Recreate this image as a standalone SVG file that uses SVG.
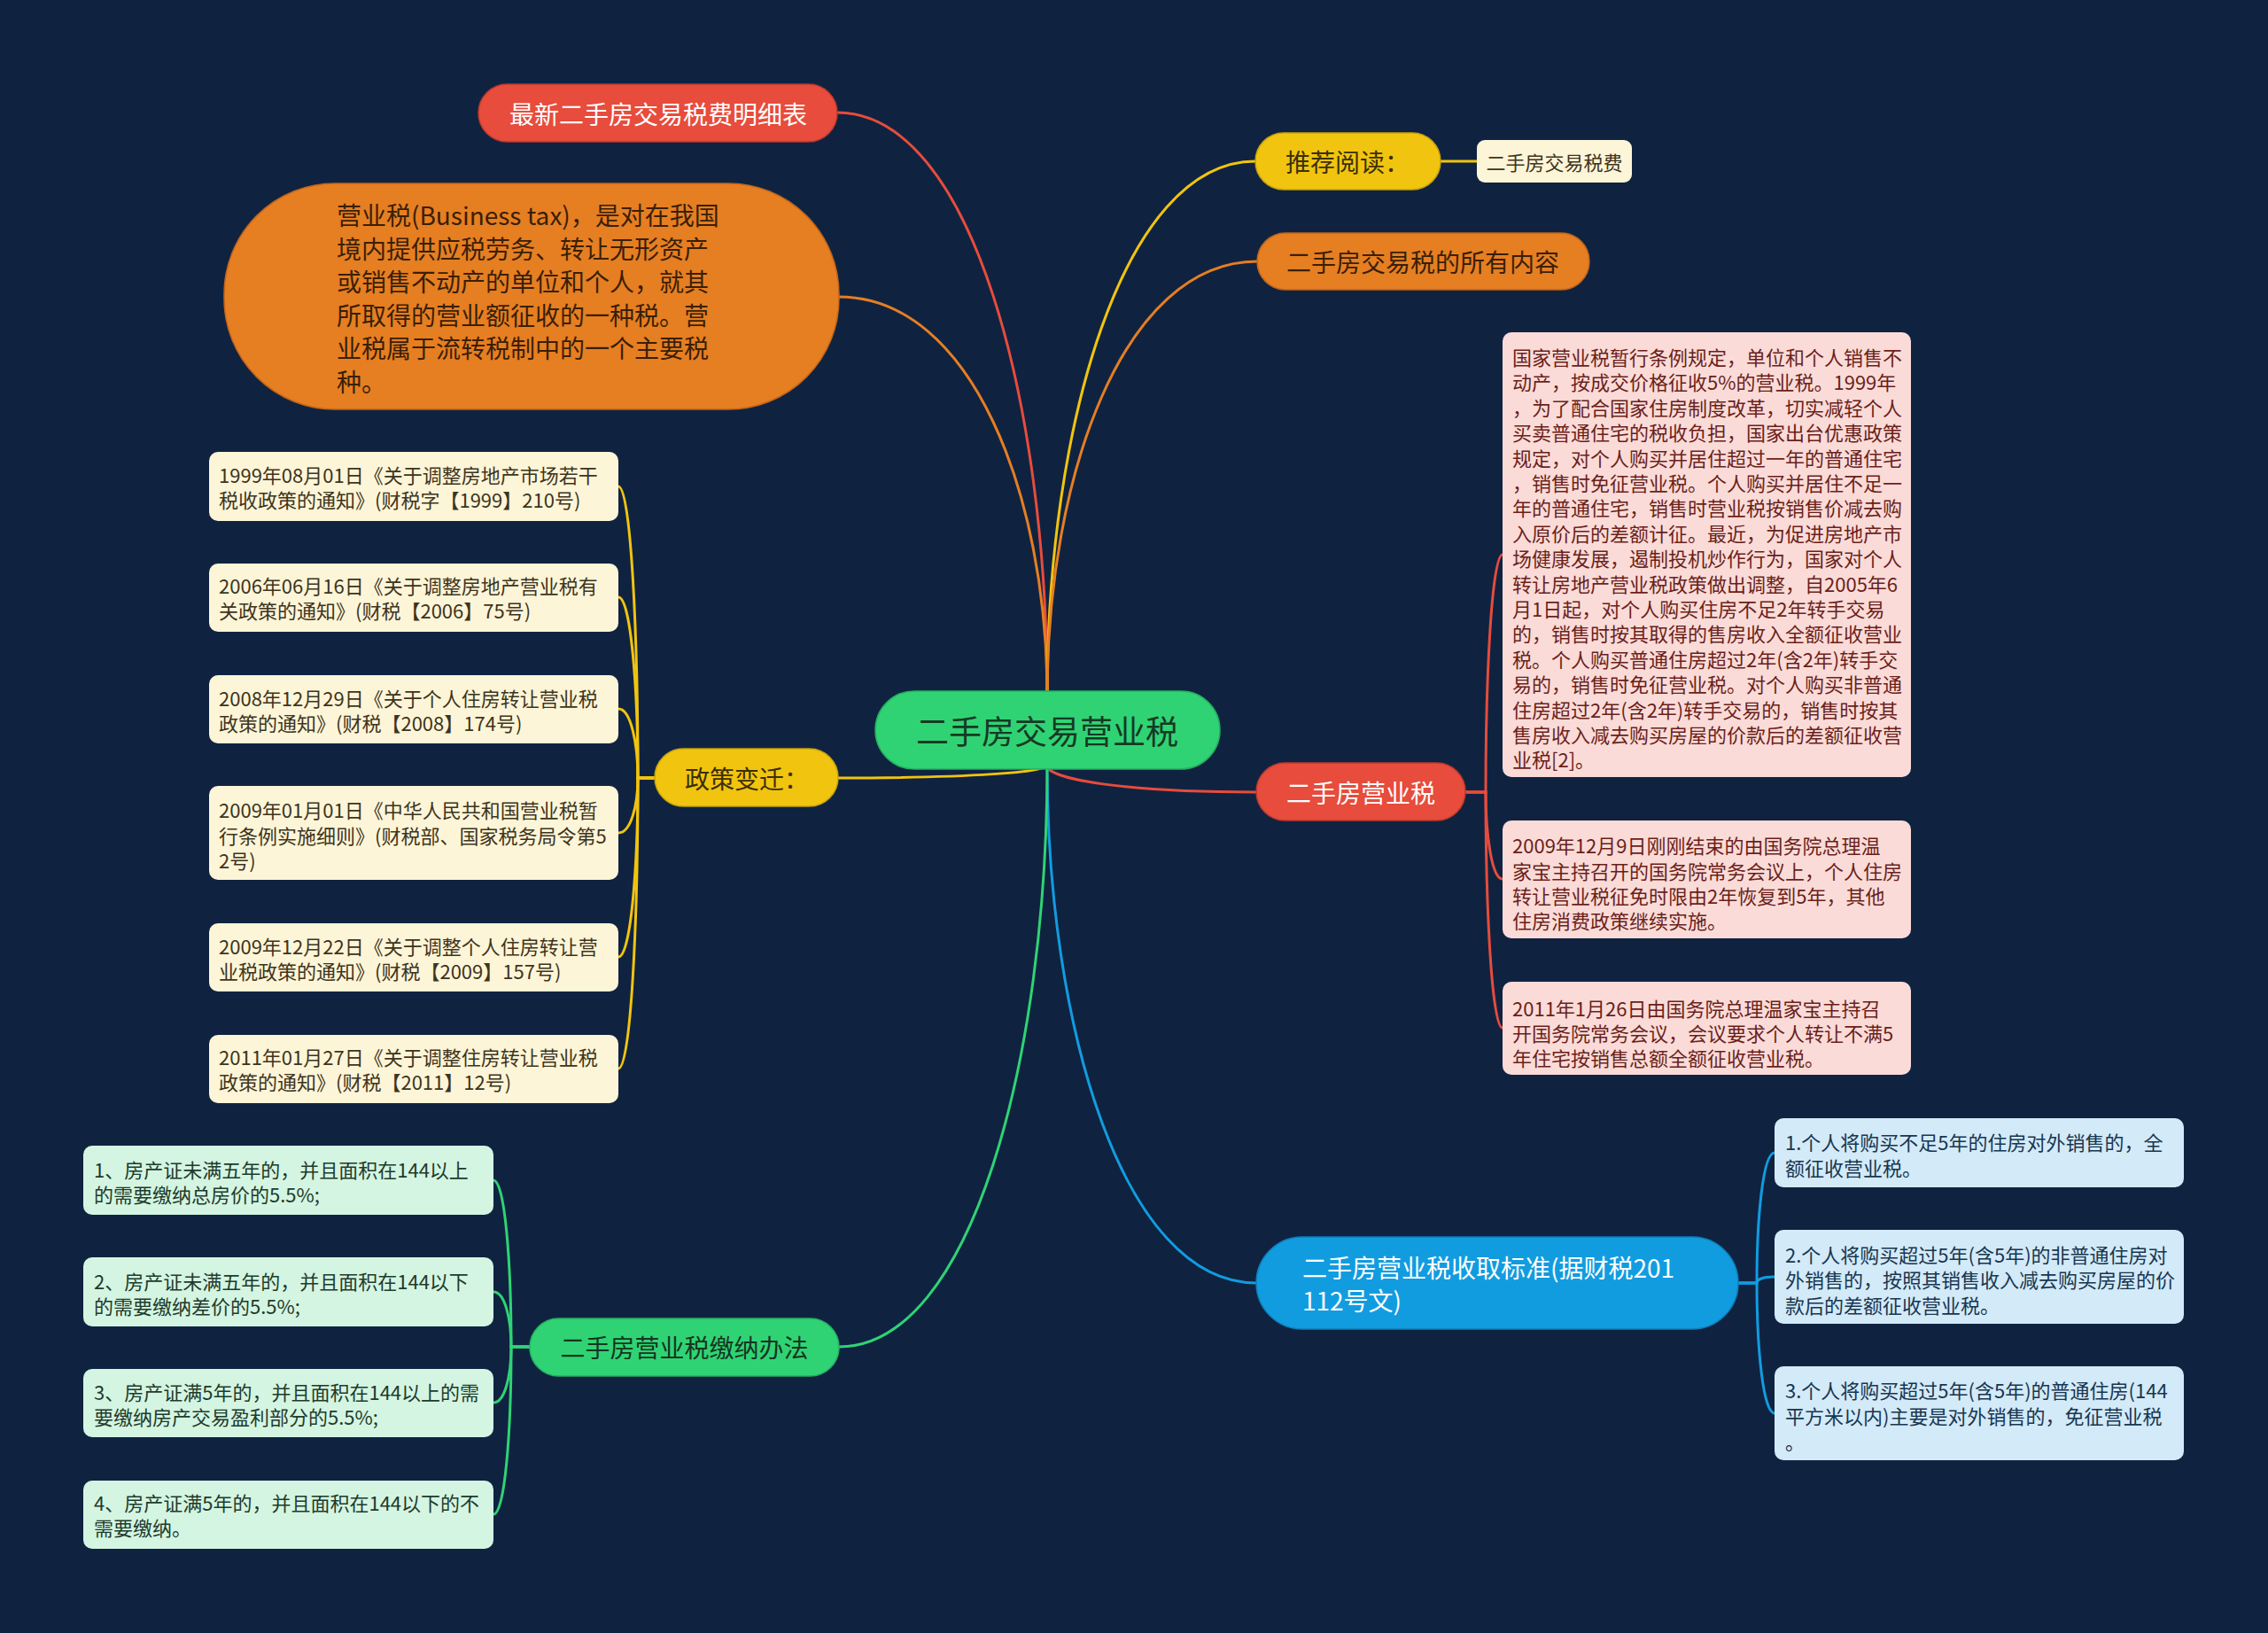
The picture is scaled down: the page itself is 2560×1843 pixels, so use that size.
<svg xmlns="http://www.w3.org/2000/svg" width="2560" height="1843" viewBox="0 0 2560 1843">
<style>
text{font-family:"Noto Sans CJK SC","Noto Sans",sans-serif;dominant-baseline:central}
.c{fill:none;stroke-width:3;stroke-linecap:round}
.l1{font-size:28px}
.lf{font-size:22px}
.mid{text-anchor:middle}
</style>
<rect width="2560" height="1843" fill="#0f2341"/>
<g id="connectors">
<path class="c" stroke="#e74c3c" d="M1182,784 C1182,455 1097,127 945,127"/>
<path class="c" stroke="#e67e22" d="M1182,784 C1182,560 1097,335 947,335"/>
<path class="c" stroke="#f1c40f" d="M1182,784 C1182,483 1267,182 1417,182"/>
<path class="c" stroke="#e67e22" d="M1182,784 C1182,540 1267,295 1419,295"/>
<path class="c" stroke="#e74c3c" d="M1182,864 C1182,879 1267,894 1418,894"/>
<path class="c" stroke="#129ce0" d="M1182,864 C1182,1156 1267,1448 1418,1448"/>
<path class="c" stroke="#30d374" d="M1182,864 C1182,1192 1097,1520 947,1520"/>
<path class="c" stroke="#f1c40f" d="M1182,864 C1182,871 1097,878 946,878"/>
<path class="c" stroke="#f1c40f" d="M1626,182 L1667,182"/>
<path class="c" stroke="#f1c40f" d="M739,878 L720,878 C720,713 712,549 698,549"/>
<path class="c" stroke="#f1c40f" d="M739,878 L720,878 C720,776 712,674 698,674"/>
<path class="c" stroke="#f1c40f" d="M739,878 L720,878 C720,839 712,800 698,800"/>
<path class="c" stroke="#f1c40f" d="M739,878 L720,878 C720,909 712,940 698,940"/>
<path class="c" stroke="#f1c40f" d="M739,878 L720,878 C720,979 712,1080 698,1080"/>
<path class="c" stroke="#f1c40f" d="M739,878 L720,878 C720,1042 712,1206 698,1206"/>
<path class="c" stroke="#e74c3c" d="M1654,894 L1677,894 C1677,760 1684,626 1696,626"/>
<path class="c" stroke="#e74c3c" d="M1654,894 L1677,894 C1677,943 1684,992 1696,992"/>
<path class="c" stroke="#e74c3c" d="M1654,894 L1677,894 C1677,1027 1684,1160 1696,1160"/>
<path class="c" stroke="#30d374" d="M598,1520 L577,1520 C577,1426 570,1332 557,1332"/>
<path class="c" stroke="#30d374" d="M598,1520 L577,1520 C577,1489 570,1458 557,1458"/>
<path class="c" stroke="#30d374" d="M598,1520 L577,1520 C577,1552 570,1583 557,1583"/>
<path class="c" stroke="#30d374" d="M598,1520 L577,1520 C577,1615 570,1709 557,1709"/>
<path class="c" stroke="#129ce0" d="M1962,1448 L1983,1448 C1983,1374 1990,1301 2003,1301"/>
<path class="c" stroke="#129ce0" d="M1962,1448 L1983,1448 C1983,1444 1990,1441 2003,1441"/>
<path class="c" stroke="#129ce0" d="M1962,1448 L1983,1448 C1983,1521 1990,1595 2003,1595"/>
</g>
<g id="center">
<rect x="988" y="780" width="389" height="88" rx="44" fill="#30d374" stroke="#25b060" stroke-width="1.5"/>
<text x="1182" y="824" class="mid" font-size="37" fill="#163a24">二手房交易营业税</text>
</g>
<g id="n-mingxi">
<rect x="540" y="95" width="405" height="65" rx="32.5" fill="#e74c3c" stroke="#c0392b" stroke-width="1.5"/>
<text x="743" y="127.5" class="l1 mid" fill="#ffffff">最新二手房交易税费明细表</text>
</g>
<g id="n-yingyeshui-def">
<rect x="253" y="207" width="694" height="255" rx="125" fill="#e67e22" stroke="#c0651a" stroke-width="1.5"/>
<g class="l1" fill="#3a1f06">
<text x="380" y="242">营业税(Business tax)，是对在我国</text>
<text x="380" y="280">境内提供应税劳务、转让无形资产</text>
<text x="380" y="317">或销售不动产的单位和个人，就其</text>
<text x="380" y="355">所取得的营业额征收的一种税。营</text>
<text x="380" y="392">业税属于流转税制中的一个主要税</text>
<text x="380" y="430">种。</text>
</g>
</g>
<g id="n-tuijian">
<rect x="1417" y="150" width="209" height="64" rx="32" fill="#f1c40f" stroke="#c9a20a" stroke-width="1.5"/>
<text x="1521" y="182" class="l1 mid" fill="#3a2f07">推荐阅读：</text>
</g>
<g id="n-tuijian-leaf">
<rect x="1667" y="158" width="175" height="48" rx="9" fill="#fdf5d7"/>
<text x="1754.5" y="182" class="lf mid" fill="#3d3420">二手房交易税费</text>
</g>
<g id="n-suoyou">
<rect x="1419" y="263" width="375" height="64" rx="32" fill="#e67e22" stroke="#c0651a" stroke-width="1.5"/>
<text x="1606" y="295" class="l1 mid" fill="#3a1f06">二手房交易税的所有内容</text>
</g>
<g id="n-zhengce">
<rect x="739" y="845" width="207" height="65" rx="32.5" fill="#f1c40f" stroke="#c9a20a" stroke-width="1.5"/>
<text x="843" y="878" class="l1 mid" fill="#3a2f07">政策变迁：</text>
</g>
<g id="zc-1">
<rect x="236" y="510" width="462" height="78" rx="10" fill="#fdf5d7"/>
<g class="lf" fill="#3d3420"><text x="247" y="535">1999年08月01日《关于调整房地产市场若干</text><text x="247" y="563">税收政策的通知》(财税字【1999】210号)</text></g>
</g>
<g id="zc-2">
<rect x="236" y="636" width="462" height="77" rx="10" fill="#fdf5d7"/>
<g class="lf" fill="#3d3420"><text x="247" y="660">2006年06月16日《关于调整房地产营业税有</text><text x="247" y="688">关政策的通知》(财税【2006】75号)</text></g>
</g>
<g id="zc-3">
<rect x="236" y="762" width="462" height="77" rx="10" fill="#fdf5d7"/>
<g class="lf" fill="#3d3420"><text x="247" y="787">2008年12月29日《关于个人住房转让营业税</text><text x="247" y="815">政策的通知》(财税【2008】174号)</text></g>
</g>
<g id="zc-4">
<rect x="236" y="887" width="462" height="106" rx="10" fill="#fdf5d7"/>
<g class="lf" fill="#3d3420"><text x="247" y="913">2009年01月01日《中华人民共和国营业税暂</text><text x="247" y="942">行条例实施细则》(财税部、国家税务局令第5</text><text x="247" y="970">2号)</text></g>
</g>
<g id="zc-5">
<rect x="236" y="1042" width="462" height="77" rx="10" fill="#fdf5d7"/>
<g class="lf" fill="#3d3420"><text x="247" y="1067">2009年12月22日《关于调整个人住房转让营</text><text x="247" y="1095">业税政策的通知》(财税【2009】157号)</text></g>
</g>
<g id="zc-6">
<rect x="236" y="1168" width="462" height="77" rx="10" fill="#fdf5d7"/>
<g class="lf" fill="#3d3420"><text x="247" y="1192">2011年01月27日《关于调整住房转让营业税</text><text x="247" y="1220">政策的通知》(财税【2011】12号)</text></g>
</g>
<g id="n-yingyeshui">
<rect x="1418" y="861" width="236" height="65" rx="32.5" fill="#e74c3c" stroke="#c0392b" stroke-width="1.5"/>
<text x="1536" y="894" class="l1 mid" fill="#ffffff">二手房营业税</text>
</g>
<g id="ys-1">
<rect x="1696" y="375" width="461" height="502" rx="10" fill="#fadbd8"/>
<g class="lf" fill="#6b1f1a">
<text x="1707" y="402">国家营业税暂行条例规定，单位和个人销售不</text>
<text x="1707" y="430">动产，按成交价格征收5%的营业税。1999年</text>
<text x="1707" y="459">，为了配合国家住房制度改革，切实减轻个人</text>
<text x="1707" y="487">买卖普通住宅的税收负担，国家出台优惠政策</text>
<text x="1707" y="516">规定，对个人购买并居住超过一年的普通住宅</text>
<text x="1707" y="544">，销售时免征营业税。个人购买并居住不足一</text>
<text x="1707" y="572">年的普通住宅，销售时营业税按销售价减去购</text>
<text x="1707" y="601">入原价后的差额计征。最近，为促进房地产市</text>
<text x="1707" y="629">场健康发展，遏制投机炒作行为，国家对个人</text>
<text x="1707" y="658">转让房地产营业税政策做出调整，自2005年6</text>
<text x="1707" y="686">月1日起，对个人购买住房不足2年转手交易</text>
<text x="1707" y="714">的，销售时按其取得的售房收入全额征收营业</text>
<text x="1707" y="743">税。个人购买普通住房超过2年(含2年)转手交</text>
<text x="1707" y="771">易的，销售时免征营业税。对个人购买非普通</text>
<text x="1707" y="800">住房超过2年(含2年)转手交易的，销售时按其</text>
<text x="1707" y="828">售房收入减去购买房屋的价款后的差额征收营</text>
<text x="1707" y="856">业税[2]。</text>
</g>
</g>
<g id="ys-2">
<rect x="1696" y="926" width="461" height="133" rx="10" fill="#fadbd8"/>
<g class="lf" fill="#6b1f1a">
<text x="1707" y="953">2009年12月9日刚刚结束的由国务院总理温</text>
<text x="1707" y="982">家宝主持召开的国务院常务会议上，个人住房</text>
<text x="1707" y="1010">转让营业税征免时限由2年恢复到5年，其他</text>
<text x="1707" y="1038">住房消费政策继续实施。</text>
</g>
</g>
<g id="ys-3">
<rect x="1696" y="1108" width="461" height="105" rx="10" fill="#fadbd8"/>
<g class="lf" fill="#6b1f1a">
<text x="1707" y="1137">2011年1月26日由国务院总理温家宝主持召</text>
<text x="1707" y="1165">开国务院常务会议，会议要求个人转让不满5</text>
<text x="1707" y="1193">年住宅按销售总额全额征收营业税。</text>
</g>
</g>
<g id="n-biaozhun">
<rect x="1418" y="1396" width="544" height="104" rx="52" fill="#129ce0" stroke="#0d7fb8" stroke-width="1.5"/>
<g class="l1" fill="#ffffff">
<text x="1470" y="1430">二手房营业税收取标准(据财税201</text>
<text x="1470" y="1467">112号文)</text>
</g>
</g>
<g id="bz-1">
<rect x="2003" y="1262" width="462" height="78" rx="10" fill="#d3eaf8"/>
<g class="lf" fill="#173650"><text x="2015" y="1288">1.个人将购买不足5年的住房对外销售的，全</text><text x="2015" y="1317">额征收营业税。</text></g>
</g>
<g id="bz-2">
<rect x="2003" y="1388" width="462" height="106" rx="10" fill="#d3eaf8"/>
<g class="lf" fill="#173650"><text x="2015" y="1415">2.个人将购买超过5年(含5年)的非普通住房对</text><text x="2015" y="1443">外销售的，按照其销售收入减去购买房屋的价</text><text x="2015" y="1472">款后的差额征收营业税。</text></g>
</g>
<g id="bz-3">
<rect x="2003" y="1542" width="462" height="106" rx="10" fill="#d3eaf8"/>
<g class="lf" fill="#173650"><text x="2015" y="1568">3.个人将购买超过5年(含5年)的普通住房(144</text><text x="2015" y="1597">平方米以内)主要是对外销售的，免征营业税</text><text x="2015" y="1626">。</text></g>
</g>
<g id="n-jiaona">
<rect x="598" y="1488" width="349" height="65" rx="32.5" fill="#30d374" stroke="#25b060" stroke-width="1.5"/>
<text x="772.5" y="1520" class="l1 mid" fill="#153520">二手房营业税缴纳办法</text>
</g>
<g id="jn-1">
<rect x="94" y="1293" width="463" height="78" rx="10" fill="#d4f5e2"/>
<g class="lf" fill="#1e3b2b"><text x="106" y="1319">1、房产证未满五年的，并且面积在144以上</text><text x="106" y="1347">的需要缴纳总房价的5.5%;</text></g>
</g>
<g id="jn-2">
<rect x="94" y="1419" width="463" height="78" rx="10" fill="#d4f5e2"/>
<g class="lf" fill="#1e3b2b"><text x="106" y="1445">2、房产证未满五年的，并且面积在144以下</text><text x="106" y="1473">的需要缴纳差价的5.5%;</text></g>
</g>
<g id="jn-3">
<rect x="94" y="1545" width="463" height="77" rx="10" fill="#d4f5e2"/>
<g class="lf" fill="#1e3b2b"><text x="106" y="1570">3、房产证满5年的，并且面积在144以上的需</text><text x="106" y="1598">要缴纳房产交易盈利部分的5.5%;</text></g>
</g>
<g id="jn-4">
<rect x="94" y="1671" width="463" height="77" rx="10" fill="#d4f5e2"/>
<g class="lf" fill="#1e3b2b"><text x="106" y="1695">4、房产证满5年的，并且面积在144以下的不</text><text x="106" y="1723">需要缴纳。</text></g>
</g>
</svg>
